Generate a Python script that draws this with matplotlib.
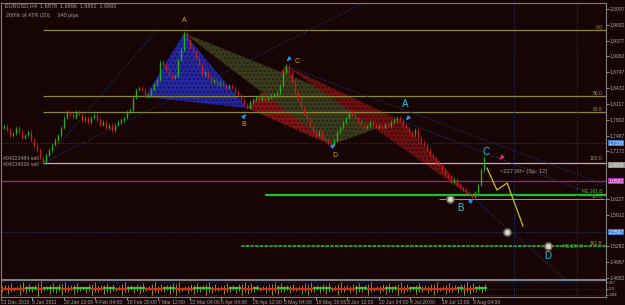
import matplotlib
matplotlib.use('Agg')
import matplotlib.pyplot as plt
from matplotlib.patches import Polygon

plt.rcParams['font.family'] = ['Liberation Sans', 'DejaVu Sans']

BG = '#170404'
GRID = '#1c3a78'

# ---- price data (one value per ~daily step) ----
closes = [1.7637, 1.7677, 1.7597, 1.7497, 1.7537, 1.7637, 1.7557, 1.7438, 1.7497, 1.7557,
          1.7398, 1.7279, 1.7199, 1.7040, 1.6960, 1.7100, 1.7199, 1.7299, 1.7398, 1.7497,
          1.7637, 1.7836, 1.7955, 1.7915, 1.7836, 1.7955, 1.7896, 1.7796, 1.7836, 1.7756,
          1.7836, 1.7896, 1.7796, 1.7697, 1.7756, 1.7637, 1.7697, 1.7597, 1.7697, 1.7756,
          1.7796, 1.7836, 1.7955, 1.7995, 1.8234, 1.8393, 1.8433, 1.8393, 1.8254, 1.8294,
          1.8393, 1.8512, 1.8592, 1.8950, 1.8891, 1.8791, 1.8692, 1.8632, 1.8672, 1.8990,
          1.9189, 1.9527, 1.9388, 1.9229, 1.9149, 1.9030, 1.8891, 1.8692, 1.8751, 1.8632,
          1.8552, 1.8592, 1.8512, 1.8532, 1.8473, 1.8433, 1.8492, 1.8433, 1.8353, 1.8294,
          1.8194, 1.8095, 1.8035, 1.8154, 1.8194, 1.8234, 1.8194, 1.8254, 1.8194, 1.8234,
          1.8274, 1.8294, 1.8333, 1.8492, 1.8751, 1.8871, 1.8751, 1.8552, 1.8353, 1.8194,
          1.8035, 1.7896, 1.7796, 1.7677, 1.7557, 1.7478, 1.7557, 1.7438, 1.7398, 1.7338,
          1.7299, 1.7398, 1.7557, 1.7637, 1.7756, 1.7836, 1.7955, 1.7896, 1.7836, 1.7756,
          1.7697, 1.7637, 1.7677, 1.7756, 1.7697, 1.7637, 1.7677, 1.7637, 1.7716, 1.7677,
          1.7756, 1.7796, 1.7836, 1.7796, 1.7697, 1.7637, 1.7557, 1.7497, 1.7597, 1.7438,
          1.7358, 1.7299, 1.7199, 1.7100, 1.7040, 1.6960, 1.6901, 1.6801, 1.6702, 1.6642,
          1.6562, 1.6602, 1.6503, 1.6443, 1.6403, 1.6363, 1.6304, 1.6264, 1.6363, 1.6503,
          1.6801, 1.7040]

price_ticks = [1.4652, 1.4967, 1.5282, 1.5912, 1.6227, 1.7172, 1.7487,
               1.7802, 1.8117, 1.8432, 1.8747, 1.9062, 1.9377, 1.9692, 2.0007]
price_tick_labels = ['1.4652', '1.4967', '1.5282', '1.5912', '1.6227', '1.7172', '1.7487',
                     '1.7802', '1.8117', '1.8432', '1.8747', '1.9062', '1.9377', '1.9692', '2.0007']

date_labels = ['21 Dec 2010', '5 Jan 2011', '20 Jan 12:00', '4 Feb 04:00', '18 Feb 20:00',
               '7 Mar 12:00', '22 Mar 04:00', '6 Apr 04:00', '20 Apr 12:00', '5 May 04:00',
               '19 May 20:00', '3 Jun 12:00', '20 Jun 04:00', '4 Jul 20:00', '19 Jul 12:00',
               '3 Aug 04:00']
date_step = 10.5   # bars between date labels

# harmonic pattern pivots (bar, price)
p1_bars = [48, 61, 82, 95, 110]
p1_prices = [1.8254, 1.9527, 1.8035, 1.8871, 1.7299]
p2_bars = [61, 110, 133, 157, 161]
p2_prices = [1.9527, 1.7299, 1.7796, 1.6264, 1.7040]
proj_bars = [162, 165.3, 168.7, 174]
proj_prices = [1.6840, 1.6403, 1.6543, 1.5686]

# horizontal levels
fib_levels = [1.9587, 1.8274, 1.7955]
fib_names = ['0.0', '50.0', '61.8']
line_blue1 = 1.7338
line_100 = 1.6940
line_mag = 1.6582
line_fe = 1.6304
line_127 = 1.6224
line_blue2 = 1.5567
line_fe227 = 1.5288

# oscillator in the sub window
osc = [-1, -1, -1, -1, 1, 1, -1, 1, 1, 1, -1, -1, 1, 1, 1, -1, -1, 1, 1, -1,
       -1, 1, 1, 1, -1, -1, -1, 1, 1, -1, -1, -1, 1, 1, 1, -1, -1, -1, 1, 1,
       -1, -1, 1, -1, -1, -1, 1, 1, -1, -1, -1, -1, 1, 1, 1, -1, -1, -1, -1, 1,
       1, -1, -1, -1, 1, 1, -1, -1, 1, 1, -1, -1, -1, -1, -1, -1, 1, -1, -1, 1, 1]
spikes = [3, 5, 2, 6, 4, 3, 7, 2, 5, 4, 6, 3, 5, 2, 4, 6, 3, 5, 4, 2,
          6, 3, 4, 5, 2, 6, 4, 3, 5, 6, 2, 4, 5, 3, 6, 4, 2, 5, 3, 4,
          6, 5, 3, 2, 4, 6, 5, 3, 4, 2, 5, 6, 3, 4, 5, 2, 6, 3, 4, 5,
          3, 6, 2, 4, 5, 3, 6, 4, 2, 5, 3, 4, 6, 2, 5, 3, 4, 6, 5, 3, 4]

W, H = 625, 305
fig = plt.figure(figsize=(W / 100, H / 100), dpi=100, facecolor=BG)

def fr(x0, y0, x1, y1):
    return [x0 / W, 1 - y1 / H, (x1 - x0) / W, (y1 - y0) / H]

ax = fig.add_axes(fr(1, 3, 606, 279))
ax.set_facecolor(BG)
ax.set_xlim(0, 201.67)
ax.set_ylim(1.4632, 2.0124)

# triangles
ax.add_patch(Polygon(list(zip(p1_bars[:3], p1_prices[:3])), closed=True,
                     facecolor='#2626a0', edgecolor='#14145a', hatch='....', lw=0, zorder=1))
ax.add_patch(Polygon(list(zip(p1_bars[2:], p1_prices[2:])), closed=True,
                     facecolor='#7a1616', edgecolor='#4a0808', hatch='....', lw=0, zorder=1))
ax.add_patch(Polygon(list(zip(p2_bars[:3], p2_prices[:3])), closed=True,
                     facecolor='#3a3a1c', edgecolor='#222210', hatch='....', lw=0, zorder=1))
ax.add_patch(Polygon([(p1_bars[3], p1_prices[3]), (p2_bars[2], p2_prices[2]), (p2_bars[3], p2_prices[3])],
                     closed=True, facecolor='#6a1212', edgecolor='#3e0606', hatch='....', lw=0, zorder=1))

# horizontal lines
lab = dict(fontsize=3.6, ha='right', va='bottom', zorder=5)
for lv, nm in zip(fib_levels, fib_names):
    ax.hlines(lv, 14, 201.67, color='#8a8a3c', lw=0.9, zorder=2)
    ax.text(200.5, lv, nm, color='#9a9a50', **lab)
ax.axhline(line_blue1, color=GRID, lw=0.8, ls=(0, (1, 1.5)), zorder=2)
ax.hlines(line_100, 14, 201.67, color='#c8a8d0', lw=0.9, zorder=2)
ax.text(200.5, line_100 + 0.004, '100.0', color='#9a9a50', **lab)
ax.axhline(line_mag, color='#a020a0', lw=0.9, zorder=2)
ax.hlines(line_fe, 88, 201.67, color='#20c020', lw=1.6, zorder=2)
ax.text(200.5, line_fe + 0.001, 'FE 161.8', color='#30d030', **lab)
ax.hlines(line_127, 146, 201.67, color='#a09a60', lw=0.7, zorder=2)
ax.text(200.5, line_127, '127.0', color='#9a9a50', fontsize=3.2, ha='right', va='bottom', zorder=5)
ax.axhline(line_blue2, color=GRID, lw=0.8, ls=(0, (1, 1.5)), zorder=2)
ax.hlines(line_fe227, 80, 201.67, color='#20b020', lw=1.3, ls=(0, (2, 0.6)), zorder=2)
ax.text(200.5, line_fe227, '161.8', color='#9a9a50', **lab)
ax.text(187.5, line_fe227, 'FE 227.0', color='#30c030', fontsize=3.6, ha='left', va='center', zorder=5)

# vertical dotted lines
for xv in [171, 192]:
    ax.axvline(xv, color=GRID, lw=0.8, ls=(0, (1, 1.5)), zorder=2)

# diagonal dotted lines
dots = dict(color=GRID, lw=0.8, ls=(0, (1, 1.5)), zorder=2)
ax.plot([14, 52], [1.6940, 1.9587], **dots)
ax.plot([14, 121], [1.6940, 2.0124], **dots)
ax.plot([95, 201.67], [1.8871, 1.6503], **dots)
ax.plot([133, 201.67], [1.7796, 1.6205], **dots)
ax.plot([157, 188], [1.6264, 1.4632], **dots)

# candles
prev = closes[0]
for i, c in enumerate(closes):
    o = prev
    col = '#22b022' if c >= o else '#c41e1e'
    lo, hi = min(o, c), max(o, c)
    ax.vlines(i, lo - 0.003, hi + 0.003, color=col, lw=0.5, zorder=3)
    ax.vlines(i, lo, hi if hi - lo > 0.001 else lo + 0.001, color=col, lw=1.0, zorder=3)
    prev = c

# projection
ax.plot(proj_bars, proj_prices, color='#c8c020', lw=0.9, zorder=4)

# circles
for bx, py in [(149.7, 1.6224), (168.7, 1.5567), (182.3, 1.5288)]:
    ax.plot(bx, py, 'o', ms=5, color='#d8d8c8', mec='#707060', mew=1.2, zorder=6)

# labels
yl = '#c8b414'
cy = '#22c4e4'
ax.text(61, 1.9700, 'A', color=yl, fontsize=5, ha='center', va='bottom', zorder=6)
ax.text(81, 1.7700, 'B', color=yl, fontsize=5, ha='center', va='center', zorder=6)
ax.text(98.7, 1.8950, 'C', color=yl, fontsize=5, ha='center', va='center', zorder=6)
ax.text(111.3, 1.7080, 'D', color=yl, fontsize=5, ha='center', va='center', zorder=6)
ax.text(134.7, 1.8110, 'A', color=cy, fontsize=7, ha='center', va='center', zorder=6)
ax.text(153, 1.6050, 'B', color=cy, fontsize=7, ha='center', va='center', zorder=6)
ax.text(161.7, 1.7150, 'C', color=cy, fontsize=7, ha='center', va='center', zorder=6)
ax.text(182.3, 1.5080, 'D', color=cy, fontsize=7, ha='center', va='center', zorder=6)
ax.text(166.3, 1.6770, '<227.00> (Sp: 12)', color='#a0a0a0', fontsize=4.2, ha='left', va='center', zorder=6)

# arrows
arr = '#2a8cf0'
for (bx, py, dx, dy) in [(80.7, 1.7848, 1, 0.006), (96.3, 1.9030, -1, -0.006),
                         (110.3, 1.7259, 1, 0.006), (136, 1.7856, -1, -0.006),
                         (156.3, 1.6164, 1, 0.006)]:
    ax.annotate('', xy=(bx + dx, py + dy), xytext=(bx, py),
                arrowprops=dict(arrowstyle='-|>', color=arr, lw=1.0, mutation_scale=5), zorder=6)
ax.annotate('', xy=(165.5, 1.6980), xytext=(167, 1.7060),
            arrowprops=dict(arrowstyle='-|>', color='#f02080', lw=1.0, mutation_scale=5), zorder=6)

# right axis labels
ax.yaxis.tick_right()
ax.set_yticks(price_ticks)
ax.set_yticklabels(price_tick_labels)
ax.tick_params(axis='y', colors='#a8a8a8', labelsize=3.6, length=2, pad=0.8, width=0.6)
ax.set_xticks([])
for s in ax.spines.values():
    s.set_color('#808080')
    s.set_linewidth(0.8)

def box(price, txt, fc, tc='white'):
    ax.text(1.004, price, txt, transform=ax.get_yaxis_transform(), fontsize=3.6,
            color=tc, ha='left', va='center',
            bbox=dict(boxstyle='square,pad=0.12', fc=fc, ec='none'), zorder=7, clip_on=False)

box(line_blue1, '1.7338', '#3c78d8')
box(1.6900, '1.6900', '#909090')
box(line_mag, '1.6582', '#b030b0')
box(line_blue2, '1.5567', '#3c78d8')

# header text
fig.text(5 / W, 1 - 6 / H, 'EURUSD,H4  1.6878  1.6896  1.6862  1.6892', color='#a0a0a0',
         fontsize=4.0, ha='left', va='center')
fig.text(6 / W, 1 - 16 / H, '200% of ATR (20):    340 pips', color='#a0a0a0',
         fontsize=4.0, ha='left', va='center')
fig.text(3 / W, 1 - 158 / H, '#04223484 sell', color='#a0a0a0', fontsize=3.8, ha='left', va='center')
fig.text(3 / W, 1 - 164 / H, '#04234026 sell', color='#a0a0a0', fontsize=3.8, ha='left', va='center')

# sub window
ax2 = fig.add_axes(fr(1, 280, 606, 297))
ax2.set_facecolor(BG)
ax2.set_xlim(0, 201.67)
ax2.set_ylim(-8, 8)
for i, (v, s) in enumerate(zip(osc, spikes)):
    x = i * 2
    ax2.bar(x + 1, 2.2 * v, width=2, bottom=-0.5 * v, color='#2ad02a' if v > 0 else '#e02a14', lw=0, zorder=3)
    ax2.vlines([x + 0.4, x + 1.4], [-s, -s * 0.6], [s * 0.7, s], color='#a0a020', lw=0.6, zorder=2)
for lv in [-6, 0, 6]:
    ax2.axhline(lv, color=GRID, lw=0.6, ls=(0, (1, 1.5)), zorder=1)
for xv in [171, 192]:
    ax2.axvline(xv, color=GRID, lw=0.8, ls=(0, (1, 1.5)), zorder=1)
ax2.yaxis.tick_right()
ax2.set_yticks([6, 0, -6])
ax2.set_yticklabels(['217', '0.0', '-584'])
ax2.tick_params(axis='y', colors='#a8a8a8', labelsize=3.2, length=1.5, pad=0.8, width=0.5)
ax2.set_xticks([k * date_step for k in range(len(date_labels))])
ax2.set_xticklabels(date_labels)
ax2.tick_params(axis='x', colors='#a8a8a8', labelsize=3.6, length=2, pad=0.5, width=0.6, direction='out')
for t in ax2.get_xticklabels():
    t.set_ha('left')
for s in ax2.spines.values():
    s.set_color('#808080')
    s.set_linewidth(0.8)

fig.savefig('out.png', dpi=100, facecolor=BG)
